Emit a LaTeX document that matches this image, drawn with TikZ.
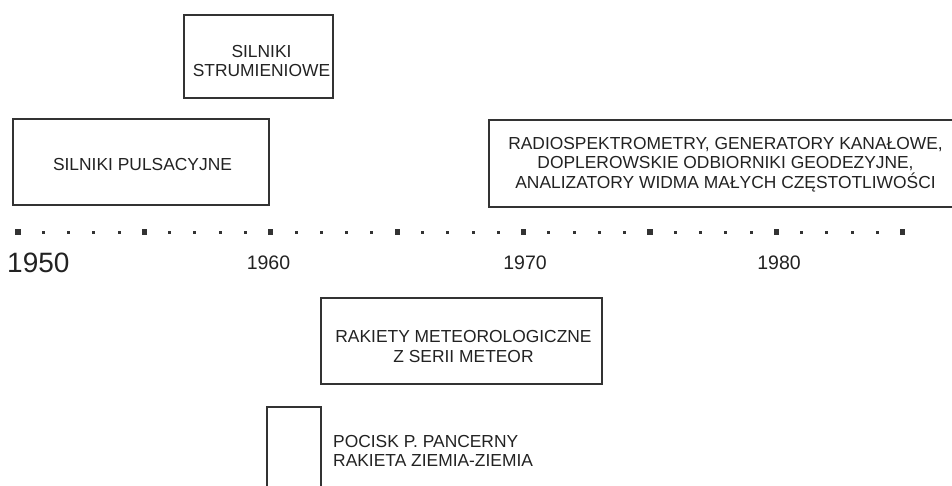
\documentclass[tikz,border=0pt]{standalone}
\usepackage{fontspec}
\setmainfont{Liberation Sans}
\definecolor{frame}{HTML}{333333}
\definecolor{ink}{HTML}{222222}
\begin{document}
\begin{tikzpicture}[x=1pt,y=-1pt,
  boxline/.style={draw=frame,line width=2.8pt},
  boxtext/.style={text=ink,font=\fontsize{17.4}{19.6}\selectfont,align=center,inner sep=0pt},
  bigsq/.style={fill=frame,minimum size=5.2pt,inner sep=0pt,draw=none},
  smalldot/.style={fill=frame,minimum size=3pt,inner sep=0pt,draw=none},
  yearlab/.style={text=ink,font=\fontsize{19.5}{22}\selectfont,inner sep=0pt}]
\useasboundingbox (0,0) rectangle (952,486);
% boxes
\draw[boxline] (184,15) rectangle (333,98);
\node[boxtext] (strum) at (261.5,61) {SILNIKI\\STRUMIENIOWE};
\draw[boxline] (13,119) rectangle (269,205);
\node[boxtext] (puls) at (142.5,165) {SILNIKI PULSACYJNE};
\draw[boxline] (960,120) -- (489,120) -- (489,207) -- (960,207);
\node[boxtext] (radio) at (725.5,164.5) {RADIOSPEKTROMETRY, GENERATORY KANAŁOWE,\\DOPLEROWSKIE ODBIORNIKI GEODEZYJNE,\\ANALIZATORY WIDMA MAŁYCH CZĘSTOTLIWOŚCI};
\draw[boxline] (321,298) rectangle (602,384);
\node[boxtext] (meteor) at (463.5,346.5) {RAKIETY METEOROLOGICZNE\\Z SERII METEOR};
\draw[boxline] (267,495) -- (267,407) -- (321,407) -- (321,495);
\node[boxtext,align=left,anchor=west] (pocisk) at (333,451) {POCISK P. PANCERNY\\RAKIETA ZIEMIA-ZIEMIA};
% axis
\foreach \k in {0,...,7} {
  \node[bigsq] (sq\k) at ({18+126.4*\k},232) {};
}
\foreach \k in {0,...,6} {
  \foreach \j in {1,...,4} {
    \node[smalldot] (d\k-\j) at ({18+126.4*\k+25.28*\j},233) {};
  }
}
\node[text=ink,font=\fontsize{28}{30}\selectfont,inner sep=0pt,anchor=west] (y1950) at (7,263) {1950};
\node[yearlab] (y1960) at (268.5,263) {1960};
\node[yearlab] (y1970) at (525,263) {1970};
\node[yearlab] (y1980) at (779,263) {1980};
\end{tikzpicture}
\end{document}
